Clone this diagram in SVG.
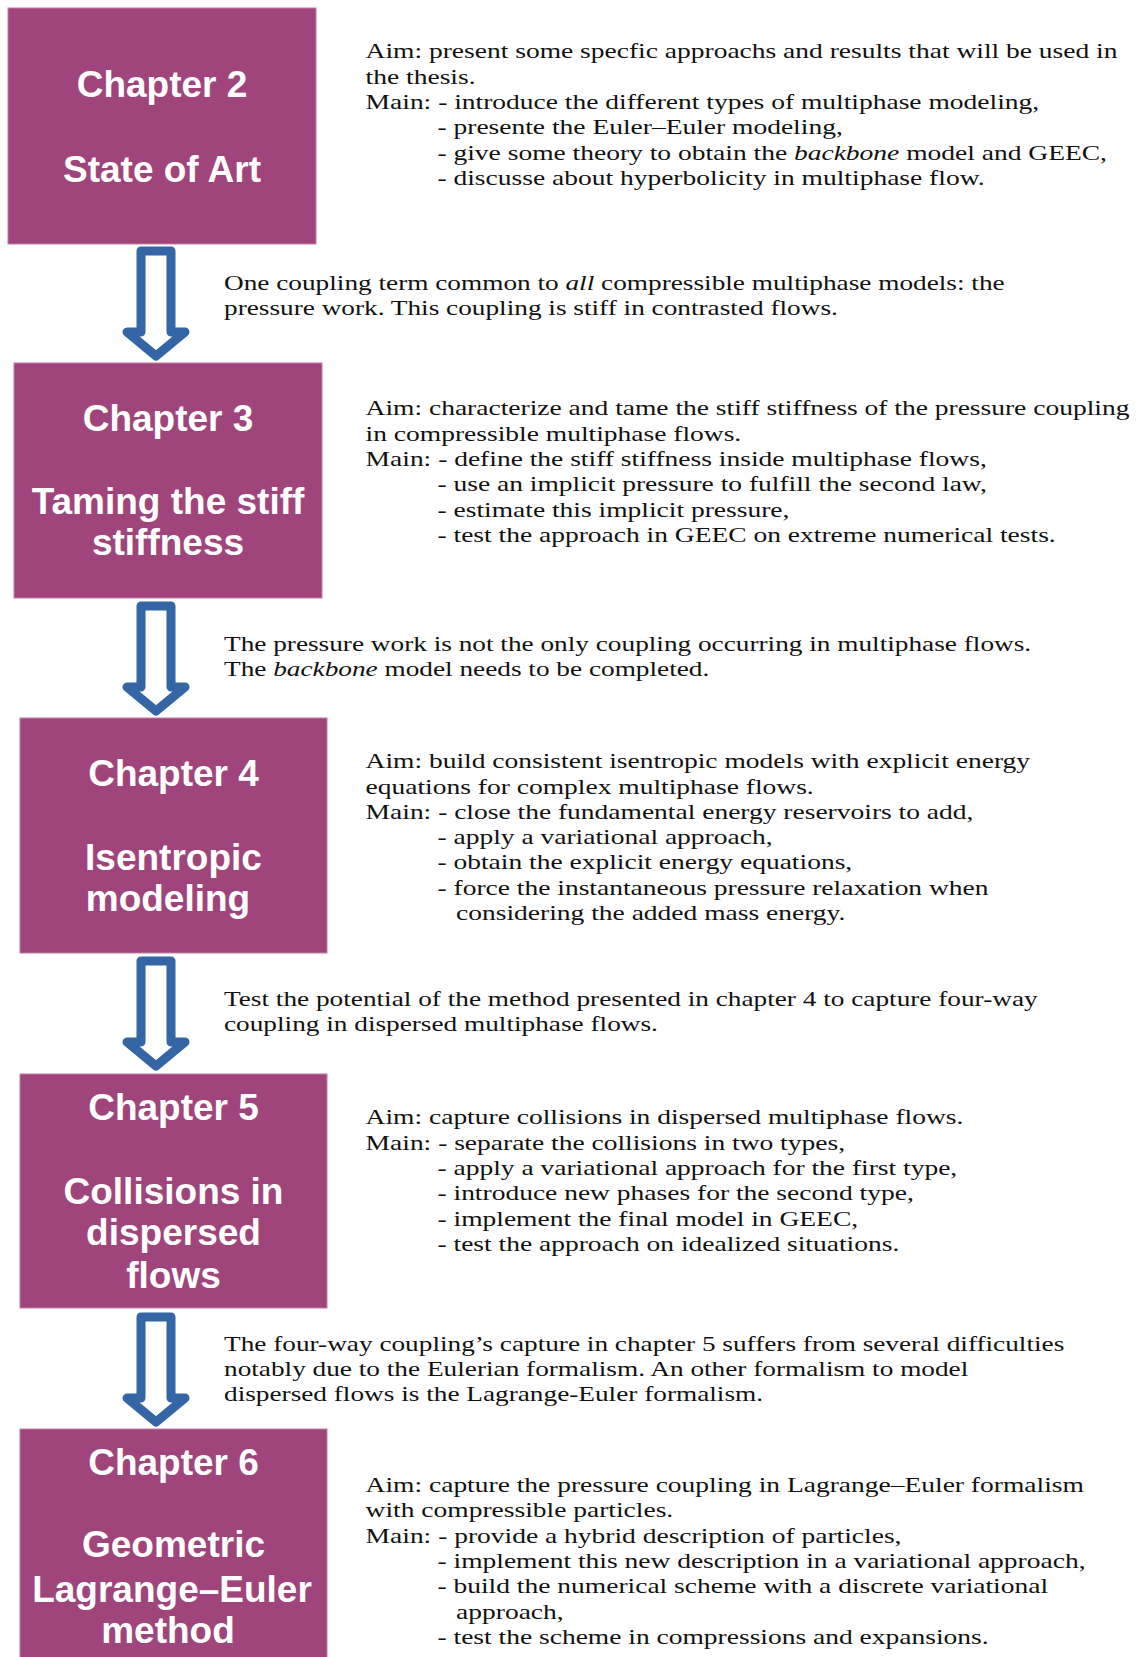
<svg xmlns="http://www.w3.org/2000/svg" width="1136" height="1657" viewBox="0 0 1136 1657">
<style>
.box{fill:#a0457c;stroke:#c27ea4;stroke-width:1}
.ttl{font-family:"Liberation Sans",Arial,sans-serif;font-weight:bold;font-size:37px;fill:#ffffff;text-anchor:middle}
.desc{font-family:"Liberation Serif","Times New Roman",serif;font-size:22px;fill:#111111}
.it{font-style:italic}
.arrow{fill:#ffffff;stroke:#3465a4;stroke-width:9;stroke-linejoin:round}
</style>
<rect width="1136" height="1657" fill="#ffffff"/>

<g id="connectors">
<path class="arrow" d="M141,251 H171 V332 H185 L156,356 L127,332 H141 Z"/>
<path class="arrow" d="M141,606 H171 V687 H185 L156,711 L127,687 H141 Z"/>
<path class="arrow" d="M141,961 H171 V1042 H185 L156,1066 L127,1042 H141 Z"/>
<path class="arrow" d="M141,1317 H171 V1398 H185 L156,1422 L127,1398 H141 Z"/>
<g transform="translate(224 1) scale(1.24 1)">
<text class="desc" x="0" y="288.6">One coupling term common to <tspan class="it">all</tspan> compressible multiphase models: the</text>
<text class="desc" x="0" y="314">pressure work. This coupling is stiff in contrasted flows.</text>
<text class="desc" x="0" y="650">The pressure work is not the only coupling occurring in multiphase flows.</text>
<text class="desc" x="0" y="675.4">The <tspan class="it">backbone</tspan> model needs to be completed.</text>
<text class="desc" x="0" y="1005.1">Test the potential of the method presented in chapter 4 to capture four-way</text>
<text class="desc" x="0" y="1030.4">coupling in dispersed multiphase flows.</text>
<text class="desc" x="0" y="1349.6">The four-way coupling’s capture in chapter 5 suffers from several difficulties</text>
<text class="desc" x="0" y="1374.9">notably due to the Eulerian formalism. An other formalism to model</text>
<text class="desc" x="0" y="1400.2">dispersed flows is the Lagrange-Euler formalism.</text>
</g>
</g>

<g id="chapter2">
<rect class="box" x="8" y="8" width="308" height="236"/>
<text class="ttl" x="162" y="97.3">Chapter 2</text>
<text class="ttl" x="162" y="181.7">State of Art</text>
<g transform="translate(365.6 1) scale(1.25 1)">
<text class="desc" x="0" y="57.2">Aim: present some specfic approachs and results that will be used in</text>
<text class="desc" x="0" y="82.6">the thesis.</text>
<text class="desc" x="0" y="107.9">Main: - introduce the different types of multiphase modeling,</text>
<text class="desc" x="57.5" y="133.3">- presente the Euler–Euler modeling,</text>
<text class="desc" x="57.5" y="158.7">- give some theory to obtain the <tspan class="it">backbone</tspan> model and GEEC,</text>
<text class="desc" x="57.5" y="184">- discusse about hyperbolicity in multiphase flow.</text>
</g>
</g>

<g id="chapter3">
<rect class="box" x="14" y="363" width="308" height="235"/>
<text class="ttl" x="168" y="430.7">Chapter 3</text>
<text class="ttl" x="168" y="514">Taming the stiff</text>
<text class="ttl" x="168" y="555">stiffness</text>
<g transform="translate(365.6 1) scale(1.25 1)">
<text class="desc" x="0" y="414.4">Aim: characterize and tame the stiff stiffness of the pressure coupling</text>
<text class="desc" x="0" y="439.7">in compressible multiphase flows.</text>
<text class="desc" x="0" y="465">Main: - define the stiff stiffness inside multiphase flows,</text>
<text class="desc" x="57.5" y="490.3">- use an implicit pressure to fulfill the second law,</text>
<text class="desc" x="57.5" y="515.6">- estimate this implicit pressure,</text>
<text class="desc" x="57.5" y="540.9">- test the approach in GEEC on extreme numerical tests.</text>
</g>
</g>

<g id="chapter4">
<rect class="box" x="20" y="718" width="307" height="235"/>
<text class="ttl" x="173.5" y="786">Chapter 4</text>
<text class="ttl" x="173.5" y="870">Isentropic</text>
<text class="ttl" x="168" y="910.7">modeling</text>
<g transform="translate(365.6 1) scale(1.25 1)">
<text class="desc" x="0" y="767.3">Aim: build consistent isentropic models with explicit energy</text>
<text class="desc" x="0" y="792.6">equations for complex multiphase flows.</text>
<text class="desc" x="0" y="817.9">Main: - close the fundamental energy reservoirs to add,</text>
<text class="desc" x="57.5" y="843.2">- apply a variational approach,</text>
<text class="desc" x="57.5" y="868.5">- obtain the explicit energy equations,</text>
<text class="desc" x="57.5" y="893.8">- force the instantaneous pressure relaxation when</text>
<text class="desc" x="72.4" y="919.1">considering the added mass energy.</text>
</g>
</g>

<g id="chapter5">
<rect class="box" x="20" y="1074" width="307" height="234"/>
<text class="ttl" x="173.5" y="1120">Chapter 5</text>
<text class="ttl" x="173.5" y="1204">Collisions in</text>
<text class="ttl" x="173.5" y="1245">dispersed</text>
<text class="ttl" x="173.5" y="1288.3">flows</text>
<g transform="translate(365.6 1) scale(1.25 1)">
<text class="desc" x="0" y="1123.4">Aim: capture collisions in dispersed multiphase flows.</text>
<text class="desc" x="0" y="1148.7">Main: - separate the collisions in two types,</text>
<text class="desc" x="57.5" y="1174">- apply a variational approach for the first type,</text>
<text class="desc" x="57.5" y="1199.3">- introduce new phases for the second type,</text>
<text class="desc" x="57.5" y="1224.6">- implement the final model in GEEC,</text>
<text class="desc" x="57.5" y="1249.9">- test the approach on idealized situations.</text>
</g>
</g>

<g id="chapter6">
<rect class="box" x="20" y="1429" width="307" height="240"/>
<text class="ttl" x="173.5" y="1475">Chapter 6</text>
<text class="ttl" x="173.5" y="1557.3">Geometric</text>
<text class="ttl" x="172" y="1601.7">Lagrange–Euler</text>
<text class="ttl" x="168" y="1642.7">method</text>
<g transform="translate(365.6 1) scale(1.25 1)">
<text class="desc" x="0" y="1491.2">Aim: capture the pressure coupling in Lagrange–Euler formalism</text>
<text class="desc" x="0" y="1516.5">with compressible particles.</text>
<text class="desc" x="0" y="1541.8">Main: - provide a hybrid description of particles,</text>
<text class="desc" x="57.5" y="1567.1">- implement this new description in a variational approach,</text>
<text class="desc" x="57.5" y="1592.4">- build the numerical scheme with a discrete variational</text>
<text class="desc" x="72.4" y="1617.7">approach,</text>
<text class="desc" x="57.5" y="1643">- test the scheme in compressions and expansions.</text>
</g>
</g>
</svg>
